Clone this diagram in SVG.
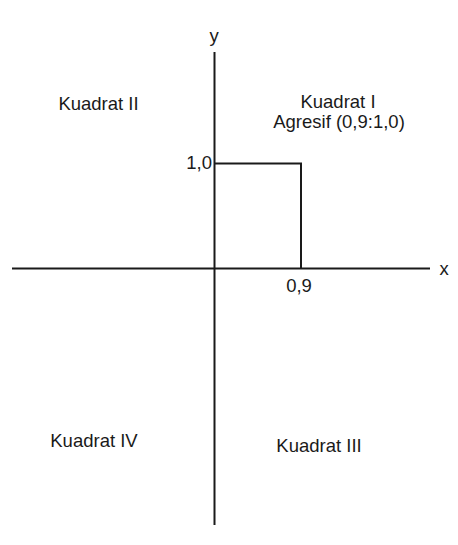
<svg xmlns="http://www.w3.org/2000/svg" width="458" height="545" viewBox="0 0 458 545">
<style>
.ax{stroke:#1a1a1a;stroke-width:2;fill:none}
.t{font-family:"Liberation Sans",Arial,sans-serif;font-size:18.5px;fill:#1a1a1a}
</style>
<rect width="458" height="545" fill="#fff"/>
<g id="connectors">
<line class="ax" x1="214.5" y1="52" x2="214.5" y2="525"/>
<line class="ax" x1="12" y1="268.5" x2="430" y2="268.5"/>
<polyline class="ax" points="214.5,163.5 301,163.5 301,268.5"/>
</g>
<g id="axis-y"><text class="t" x="214" y="42" text-anchor="middle">y</text></g>
<g id="axis-x"><text class="t" x="444" y="275" text-anchor="middle">x</text></g>
<g id="tick-y"><text class="t" x="212" y="169" text-anchor="end">1,0</text></g>
<g id="tick-x"><text class="t" x="299" y="292" text-anchor="middle">0,9</text></g>
<g id="q2"><text class="t" x="98.5" y="110" text-anchor="middle">Kuadrat II</text></g>
<g id="q1"><text class="t" x="338" y="108" text-anchor="middle">Kuadrat I</text>
<text class="t" x="339" y="128" text-anchor="middle">Agresif (0,9:1,0)</text></g>
<g id="q4"><text class="t" x="94" y="447" text-anchor="middle">Kuadrat IV</text></g>
<g id="q3"><text class="t" x="319" y="452" text-anchor="middle">Kuadrat III</text></g>
</svg>
